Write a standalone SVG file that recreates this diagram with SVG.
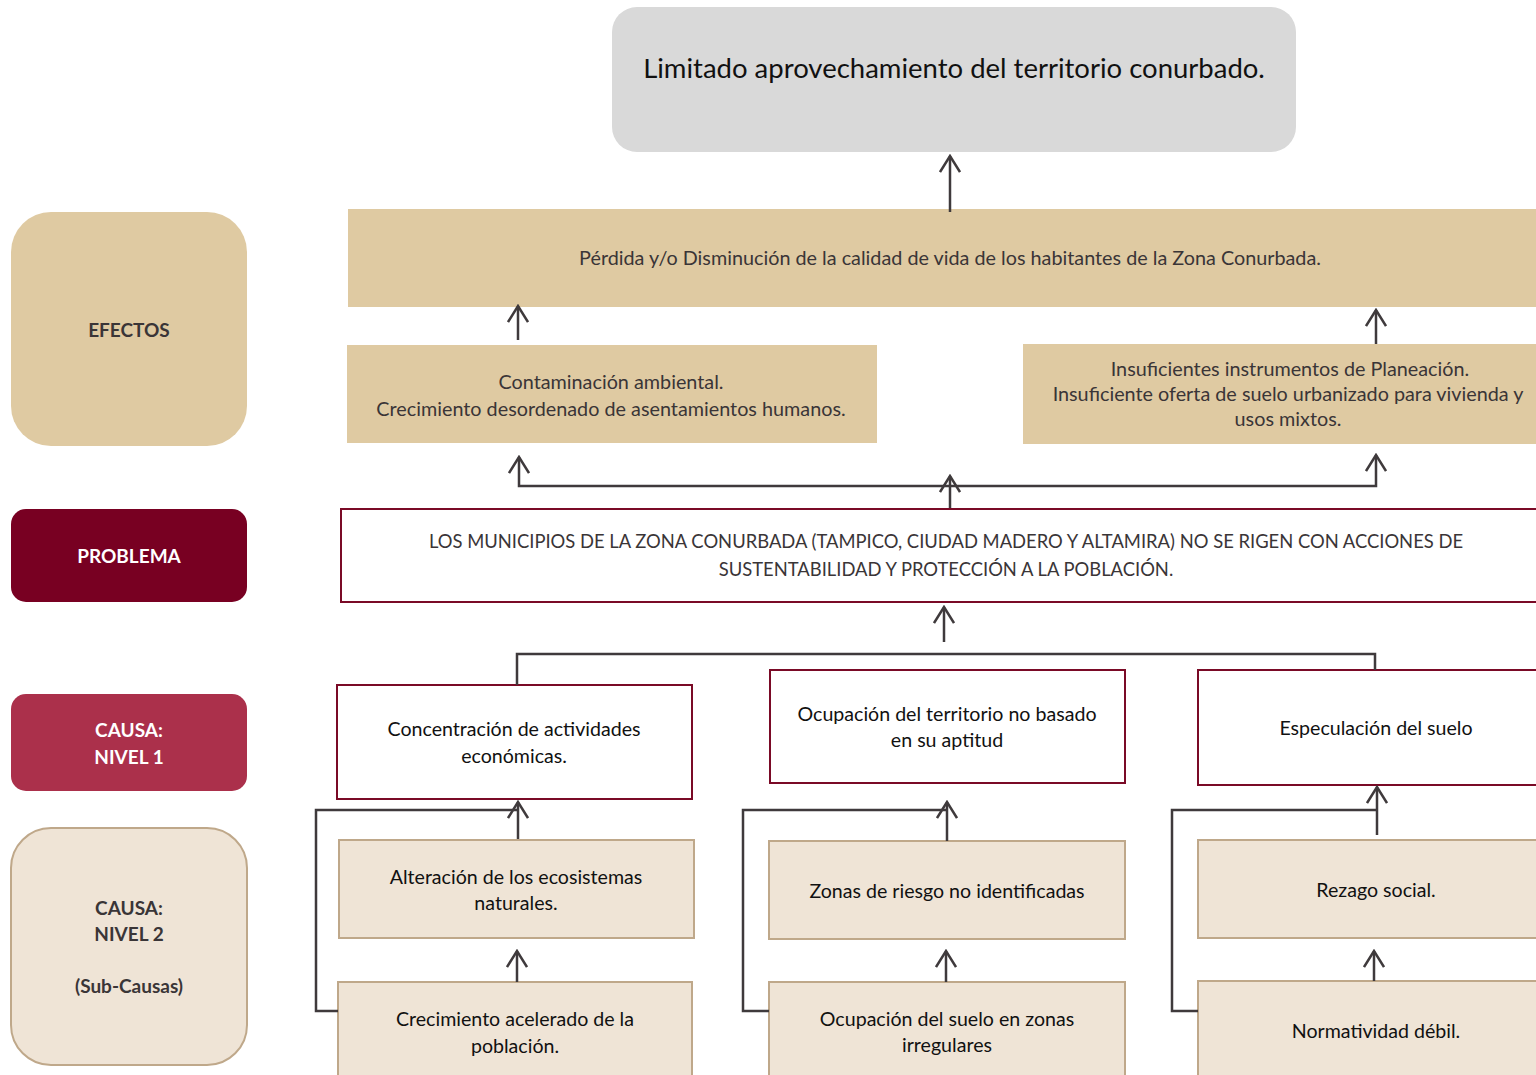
<svg xmlns="http://www.w3.org/2000/svg" width="1536" height="1075" viewBox="0 0 1536 1075">
<style>
text{font-family:Lato,"Open Sans","Liberation Sans",sans-serif;fill:#3a3537;text-anchor:middle}
.t{font-size:19.8px}
.tp{font-size:18.4px}
.tk{font-size:19.6px;fill:#111}
.lbl{font-size:19px;font-weight:bold}
.w{fill:#fff}
.eff{fill:#dfcaa2}
.prob{fill:#fff;stroke:#7a0a26;stroke-width:2}
.c1{fill:#fff;stroke:#7a0a26;stroke-width:2}
.c2{fill:#efe4d6;stroke:#bfa88a;stroke-width:2}
.ln{fill:none;stroke:#3f3a3c;stroke-width:2.5}
</style>
<defs>
<marker id="ah" viewBox="0 0 20 22" refX="18" refY="11" markerWidth="20" markerHeight="22" markerUnits="userSpaceOnUse" orient="auto">
<path d="M2,1 L18,11 L2,21" fill="none" stroke="#3f3a3c" stroke-width="2.5"/>
</marker>
</defs>

<g id="lbl-efectos"><rect x="11" y="212" width="236" height="234" rx="40" class="eff"/><text x="129" y="337" class="lbl">EFECTOS</text></g>
<g id="lbl-problema"><rect x="11" y="509" width="236" height="93" rx="15" fill="#780022"/><text x="129" y="563" class="lbl w">PROBLEMA</text></g>
<g id="lbl-causa1"><rect x="11" y="694" width="236" height="97" rx="15" fill="#ab304b"/><text x="129" y="737" class="lbl w">CAUSA:</text><text x="129" y="764" class="lbl w">NIVEL 1</text></g>
<g id="lbl-causa2"><rect x="11" y="828" width="236" height="237" rx="40" class="c2"/><text x="129" y="915" class="lbl">CAUSA:</text><text x="129" y="941" class="lbl">NIVEL 2</text><text x="129" y="993" class="lbl">(Sub-Causas)</text></g>

<g id="top"><rect x="612" y="7" width="684" height="145" rx="25" fill="#d9d9d9"/><text x="954" y="78" font-size="27.5" style="fill:#111">Limitado aprovechamiento del territorio conurbado.</text></g>
<g id="efecto-main"><rect x="348" y="209" width="1200" height="98" class="eff"/><text x="950" y="265" class="t">Pérdida y/o Disminución de la calidad de vida de los habitantes de la Zona Conurbada.</text></g>
<g id="efecto-1"><rect x="347" y="345" width="530" height="98" class="eff"/><text x="611" y="389" class="t">Contaminación ambiental.</text><text x="611" y="416" class="t">Crecimiento desordenado de asentamientos humanos.</text></g>
<g id="efecto-2"><rect x="1023" y="344" width="525" height="100" class="eff"/><text x="1290" y="376" class="t">Insuficientes instrumentos de Planeación.</text><text x="1288" y="401" class="t">Insuficiente oferta de suelo urbanizado para vivienda y</text><text x="1288" y="426" class="t">usos mixtos.</text></g>
<g id="problema"><rect x="341" y="509" width="1210" height="93" class="prob"/><text x="946" y="548" class="tp">LOS MUNICIPIOS DE LA ZONA CONURBADA (TAMPICO, CIUDAD MADERO Y ALTAMIRA) NO SE RIGEN CON ACCIONES DE</text><text x="946" y="576" class="tp">SUSTENTABILIDAD Y PROTECCIÓN A LA POBLACIÓN.</text></g>

<g id="causa-a"><rect x="337" y="685" width="355" height="114" class="c1"/><text x="514" y="736" class="tk">Concentración de actividades</text><text x="514" y="763" class="tk">económicas.</text></g>
<g id="causa-b"><rect x="770" y="670" width="355" height="113" class="c1"/><text x="947" y="721" class="tk">Ocupación del territorio no basado</text><text x="947" y="747" class="tk">en su aptitud</text></g>
<g id="causa-c"><rect x="1198" y="670" width="350" height="115" class="c1"/><text x="1376" y="735" class="tk">Especulación del suelo</text></g>

<g id="sub-a1"><rect x="339" y="840" width="355" height="98" class="c2"/><text x="516" y="884" class="tk">Alteración de los ecosistemas</text><text x="516" y="910" class="tk">naturales.</text></g>
<g id="sub-a2"><rect x="338" y="982" width="354" height="110" class="c2"/><text x="515" y="1026" class="tk">Crecimiento acelerado de la</text><text x="515" y="1053" class="tk">población.</text></g>
<g id="sub-b1"><rect x="769" y="841" width="356" height="98" class="c2"/><text x="947" y="898" class="tk">Zonas de riesgo no identificadas</text></g>
<g id="sub-b2"><rect x="769" y="982" width="356" height="110" class="c2"/><text x="947" y="1026" class="tk">Ocupación del suelo en zonas</text><text x="947" y="1052" class="tk">irregulares</text></g>
<g id="sub-c1"><rect x="1198" y="840" width="350" height="98" class="c2"/><text x="1376" y="897" class="tk">Rezago social.</text></g>
<g id="sub-c2"><rect x="1198" y="981" width="350" height="110" class="c2"/><text x="1376" y="1038" class="tk">Normatividad débil.</text></g>

<g id="connectors">
<path class="ln" d="M950,212 V156" marker-end="url(#ah)"/>
<path class="ln" d="M518,340 V306" marker-end="url(#ah)"/>
<path class="ln" d="M1376,344 V310" marker-end="url(#ah)"/>
<path class="ln" d="M950,508 V476" marker-end="url(#ah)"/>
<path class="ln" d="M950,486 H519 V457" marker-end="url(#ah)"/>
<path class="ln" d="M950,486 H1376 V455" marker-end="url(#ah)"/>
<path class="ln" d="M944,642 V607" marker-end="url(#ah)"/>
<path class="ln" d="M517,685 V654 H1375 V670"/>
<path class="ln" d="M518,839 V802" marker-end="url(#ah)"/>
<path class="ln" d="M517,982 V951" marker-end="url(#ah)"/>
<path class="ln" d="M338,1011 H316 V810 H518"/>
<path class="ln" d="M947,841 V802" marker-end="url(#ah)"/>
<path class="ln" d="M946,982 V951" marker-end="url(#ah)"/>
<path class="ln" d="M769,1011 H743 V810 H947"/>
<path class="ln" d="M1377,835 V787" marker-end="url(#ah)"/>
<path class="ln" d="M1374,981 V951" marker-end="url(#ah)"/>
<path class="ln" d="M1198,1011 H1172 V810 H1377"/>
</g>
</svg>
